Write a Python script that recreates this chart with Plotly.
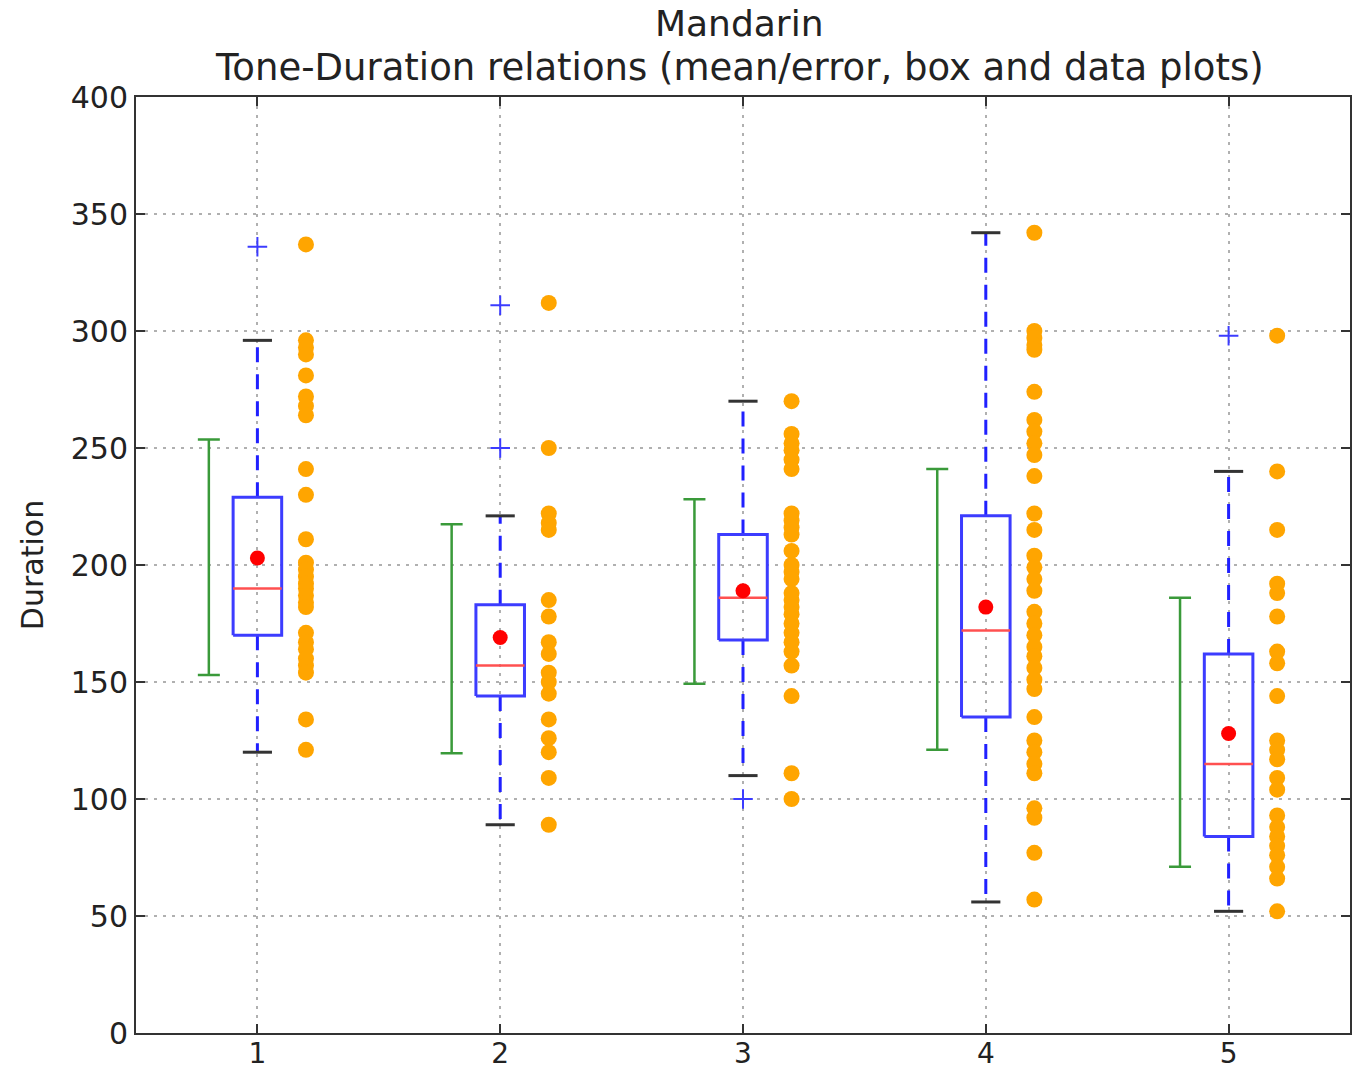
import plotly.graph_objects as go

tones = [1, 2, 3, 4, 5]
tone_labels = ["1", "2", "3", "4", "5"]

# raw durations (data plot)
tone1_dur = [337, 296, 293, 290, 281, 272, 268, 264, 241, 230, 211, 201, 198, 195, 192, 190,
             187, 184, 182, 171, 167, 164, 160, 157, 154, 134, 121]
tone2_dur = [312, 250, 222, 218, 215, 185, 178, 167, 162, 154, 150, 145, 134, 126, 120, 109, 89]
tone3_dur = [270, 256, 252, 249, 245, 241, 222, 219, 216, 213, 206, 200, 197, 194, 188, 185,
             182, 179, 175, 171, 167, 163, 157, 144, 111, 100]
tone4_dur = [342, 300, 297, 294, 292, 274, 262, 257, 252, 247, 238, 222, 215, 204, 199, 194,
             189, 180, 175, 170, 165, 161, 156, 151, 147, 135, 125, 120, 115, 111, 96, 92, 77, 57]
tone5_dur = [298, 240, 215, 192, 188, 178, 163, 158, 144, 125, 121, 117, 109, 104, 93, 88, 84,
             80, 76, 71, 66, 52]
durations = [tone1_dur, tone2_dur, tone3_dur, tone4_dur, tone5_dur]

# mean / error
means = [203, 169, 189, 182, 128]
err_center = [203.3, 168.5, 188.7, 181, 128.5]
err_half = [50.3, 48.9, 39.4, 60, 57.5]

# box statistics
q1 = [170, 144, 168, 135, 84]
median = [190, 157, 186, 172, 115]
q3 = [229, 183, 213, 221, 162]
whisk_lo = [120, 89, 110, 56, 52]
whisk_hi = [296, 221, 270, 342, 240]
outliers = [[336], [311, 250], [100], [], [298]]

title_line1 = "Mandarin"
title_line2 = "Tone-Duration relations (mean/error, box and data plots)"

BOX_HW = 0.1
CAP_HW = 0.06
OFF = 0.2

fig = go.Figure()

# error bars (mean +/- error) at tone - 0.2
fig.add_trace(go.Scatter(
    x=[t - OFF for t in tones], y=err_center, mode="markers",
    marker=dict(size=1, color="rgba(0,0,0,0)"),
    error_y=dict(type="data", array=err_half, visible=True, color="#3a9a3a", thickness=2.5, width=11),
    showlegend=False, hoverinfo="skip"))

# whiskers (dashed blue)
wx, wy = [], []
for t, a, b, c, d in zip(tones, q1, whisk_lo, q3, whisk_hi):
    wx += [t, t, None, t, t, None]
    wy += [a, b, None, c, d, None]
fig.add_trace(go.Scatter(x=wx, y=wy, mode="lines",
                         line=dict(color="#2020ff", width=3, dash="15px,12px"),
                         showlegend=False, hoverinfo="skip"))

# caps (black)
cx, cy = [], []
for t, b, d in zip(tones, whisk_lo, whisk_hi):
    cx += [t - CAP_HW, t + CAP_HW, None, t - CAP_HW, t + CAP_HW, None]
    cy += [b, b, None, d, d, None]
fig.add_trace(go.Scatter(x=cx, y=cy, mode="lines", line=dict(color="#333333", width=3),
                         showlegend=False, hoverinfo="skip"))

# boxes
bx, by = [], []
for t, a, c in zip(tones, q1, q3):
    bx += [t - BOX_HW, t + BOX_HW, t + BOX_HW, t - BOX_HW, t - BOX_HW, None]
    by += [a, a, c, c, a, None]
fig.add_trace(go.Scatter(x=bx, y=by, mode="lines", line=dict(color="#3c3cff", width=3),
                         showlegend=False, hoverinfo="skip"))

# medians
mx, my = [], []
for t, m in zip(tones, median):
    mx += [t - BOX_HW, t + BOX_HW, None]
    my += [m, m, None]
fig.add_trace(go.Scatter(x=mx, y=my, mode="lines", line=dict(color="#ff5050", width=2.5),
                         showlegend=False, hoverinfo="skip"))

# outliers
ox, oy = [], []
for t, outs in zip(tones, outliers):
    for v in outs:
        ox.append(t)
        oy.append(v)
fig.add_trace(go.Scatter(x=ox, y=oy, mode="markers",
                         marker=dict(symbol="cross-thin", size=14, line=dict(color="#3c3cff", width=2)),
                         showlegend=False, hoverinfo="skip"))

# means (red dots)
fig.add_trace(go.Scatter(x=tones, y=means, mode="markers",
                         marker=dict(color="#ff0000", size=15),
                         showlegend=False, hoverinfo="skip"))

# data points (orange)
for t, vals in zip(tones, durations):
    fig.add_trace(go.Scatter(x=[t + OFF] * len(vals), y=vals, mode="markers",
                             marker=dict(color="#ffa500", size=16),
                             showlegend=False, hoverinfo="skip"))

FONT = "DejaVu Sans"
fig.update_layout(
    width=1355, height=1071,
    margin=dict(l=136, r=5, t=97, b=38),
    paper_bgcolor="white", plot_bgcolor="white",
    font=dict(family=FONT, size=30, color="#222222"),
    annotations=[
        dict(text=title_line1, xref="paper", yref="paper", x=0.497, y=1.078,
             xanchor="center", yanchor="middle", showarrow=False,
             font=dict(family=FONT, size=36, color="#222222")),
        dict(text=title_line2, xref="paper", yref="paper", x=0.497, y=1.031,
             xanchor="center", yanchor="middle", showarrow=False,
             font=dict(family=FONT, size=37, color="#222222")),
    ],
)
fig.update_xaxes(range=[0.5, 5.5], tickvals=tones, ticktext=tone_labels, automargin=False,
                 showline=True, linecolor="#333333", linewidth=2, mirror="ticks",
                 ticks="inside", ticklen=9, tickwidth=2, tickcolor="#333333",
                 showgrid=True, gridcolor="#b0b0b0", gridwidth=2, griddash="3px,6px",
                 zeroline=False, tickfont=dict(size=28), ticklabelstandoff=-6)
fig.update_yaxes(range=[0, 400], dtick=50, tick0=0, automargin=False,
                 showline=True, linecolor="#333333", linewidth=2, mirror="ticks",
                 ticks="inside", ticklen=9, tickwidth=2, tickcolor="#333333",
                 showgrid=True, gridcolor="#b0b0b0", gridwidth=2, griddash="3px,6px",
                 zeroline=False, tickfont=dict(size=30),
                 title=dict(text="Duration", font=dict(size=30), standoff=18))

fig.write_html("out.html")
